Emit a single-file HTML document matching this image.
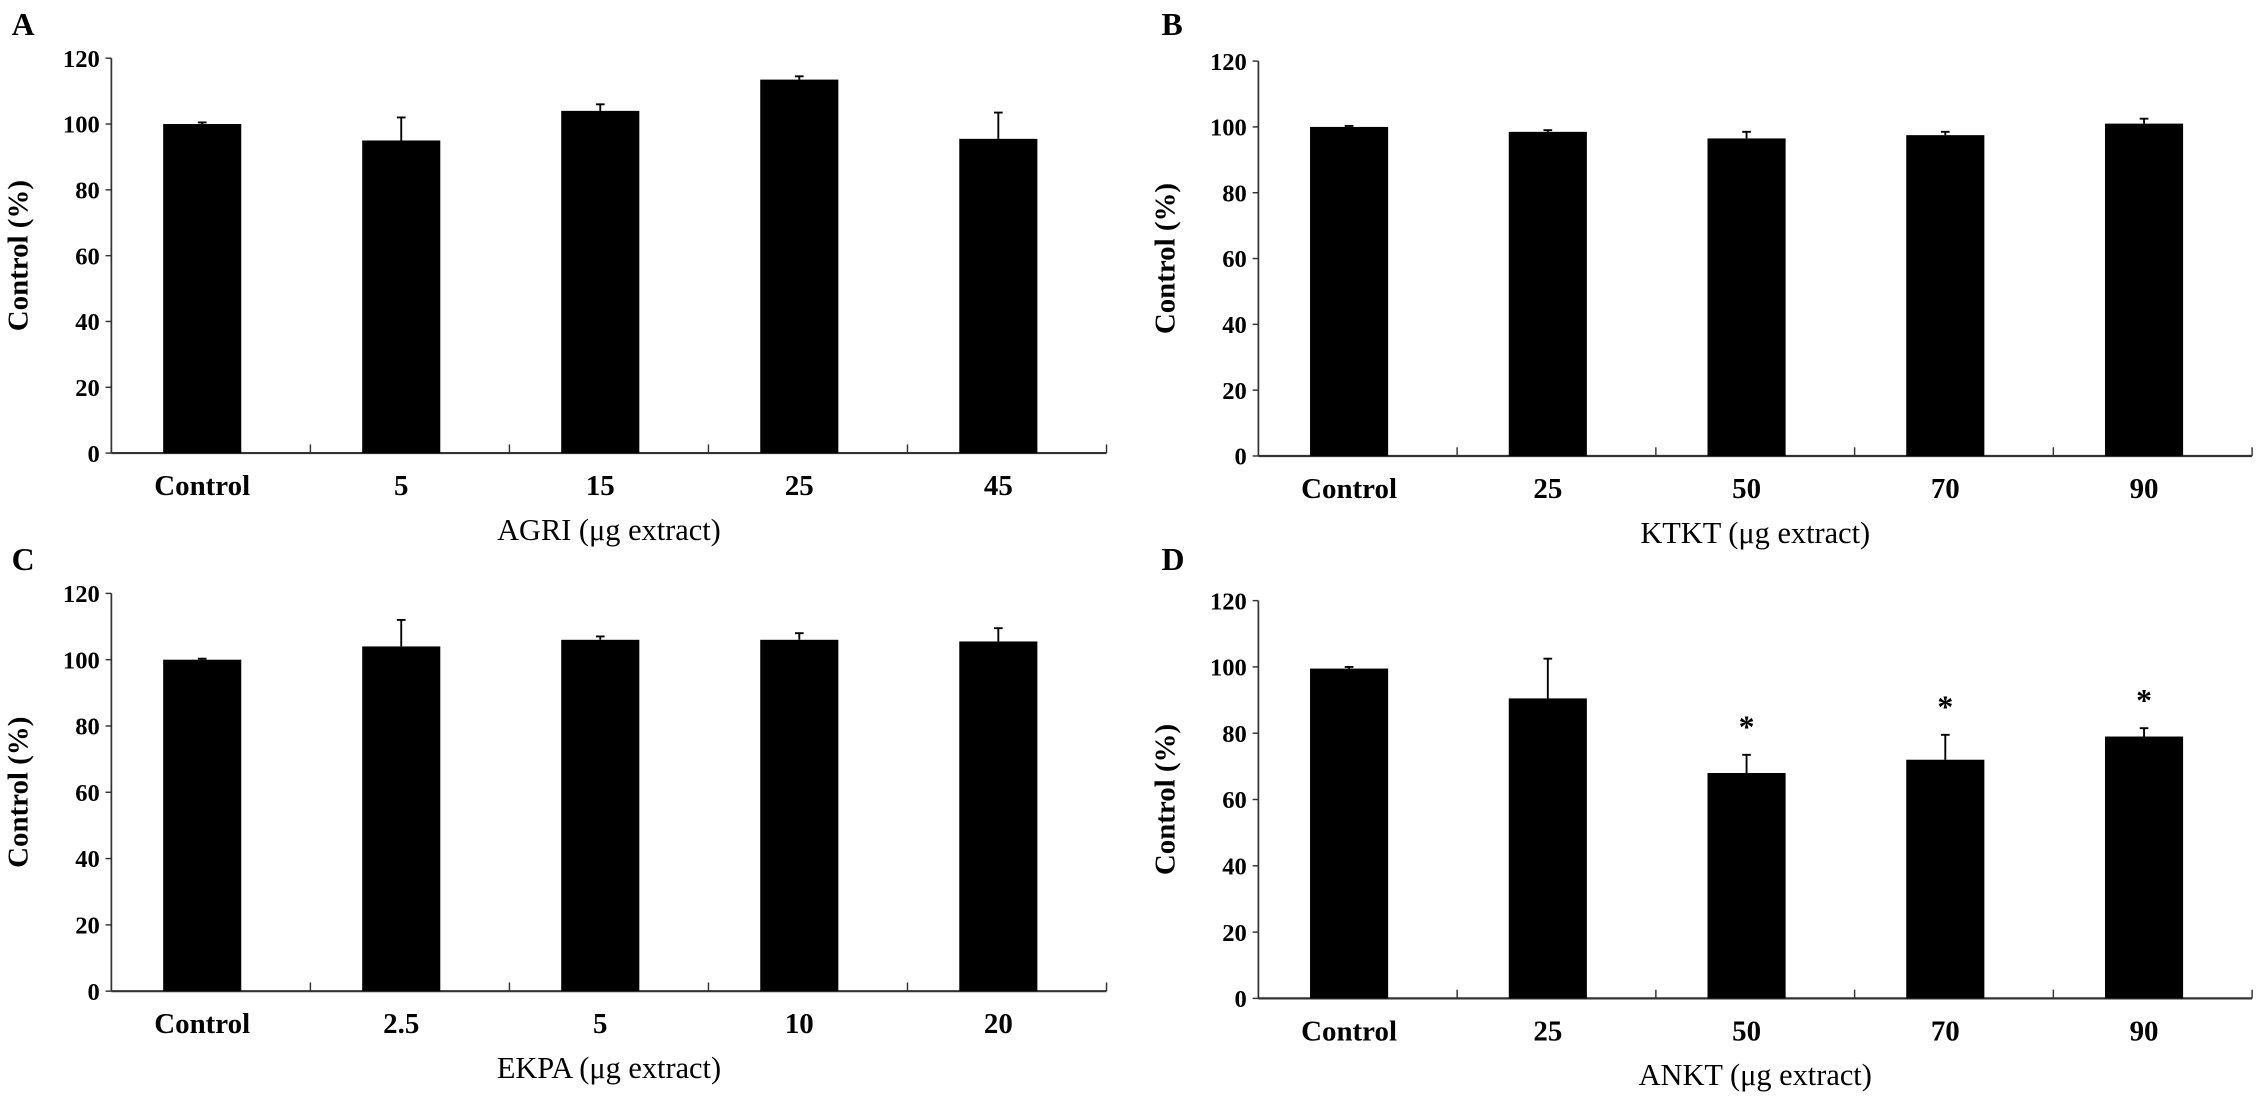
<!DOCTYPE html>
<html><head><meta charset="utf-8"><style>
html,body{margin:0;padding:0;background:#fff;}
svg{display:block;font-family:"Liberation Serif",serif;}
</style></head><body>
<svg id="fig" width="2268" height="1100" viewBox="0 0 1568 760" xmlns="http://www.w3.org/2000/svg"></svg>
<script>
const catsA = ["Control","5","15","25","45"];
const valsA = [100,95,104,113.5,95.5];
const errsA = [0.5,7,2,1,8];
const catsB = ["Control","25","50","70","90"];
const valsB = [100,98.5,96.5,97.5,101];
const errsB = [0.3,0.5,2,1,1.5];
const catsC = ["Control","2.5","5","10","20"];
const valsC = [100,104,106,106,105.5];
const errsC = [0.3,8,1,2,4];
const catsD = ["Control","25","50","70","90"];
const valsD = [99.5,90.5,68,72,79];
const errsD = [0.5,12,5.5,7.5,2.5];
const starsD = [false,false,true,true,true];
const yTicks = [0,20,40,60,80,100,120];

const svg = document.getElementById('fig');
const NS = 'http://www.w3.org/2000/svg';
function mk(tag, attrs, parent){const e=document.createElementNS(NS,tag);for(const k in attrs)e.setAttribute(k,attrs[k]);parent.appendChild(e);return e;}

function panel(letter, key, cats, vals, errs, stars, title, x0, x1, yTop, yBot, letterX, letterY){
  const g = mk('g',{},svg);
  
  
  const yS = v => yBot - (v/120)*(yBot-yTop);
  const step = (x1-x0)/cats.length;
  const xS = i => x0 + step*(i+0.5) - 6;
  const bw = 54;
  const lt = mk('text',{x:letterX,y:letterY,'font-size':22,'font-weight':'bold'},g); lt.textContent = letter;
  
  
  const ya = mk('line',{x1:x0,y1:yTop,x2:x0,y2:yBot,stroke:'#333','stroke-width':1.2},g);
  
  
  yTicks.forEach(t=>{
    mk('line',{x1:x0-4,y1:yS(t),x2:x0,y2:yS(t),stroke:'#333','stroke-width':1},g);
    const tx = mk('text',{x:x0-8,y:yS(t)+6,'font-size':17,'text-anchor':'end','font-weight':'bold'},g);
    tx.textContent = t;
    
    
  });
  const yt = mk('text',{x:0,y:0,'font-size':20,'font-weight':'bold','text-anchor':'middle',transform:`translate(${x0-58},${(yTop+yBot)/2}) rotate(-90)`},g);
  yt.textContent = 'Control (%)';
  
  
  const xa = mk('line',{x1:x0,y1:yBot,x2:x1,y2:yBot,stroke:'#333','stroke-width':1.5},g);
  
  
  for(let i=1;i<=cats.length;i++) mk('line',{x1:x0+step*i,y1:yBot,x2:x0+step*i,y2:yBot-6,stroke:'#333','stroke-width':1},g);
  cats.forEach((c,i)=>{
    const cx = xS(i);
    const b = mk('rect',{x:cx-bw/2,y:yS(vals[i]),width:bw,height:yBot-yS(vals[i]),fill:'#000'},g);
    
    
    const et = yS(vals[i]+errs[i]);
    const e = mk('path',{d:`M${cx} ${yS(vals[i])}V${et}M${cx-3} ${et}H${cx+3}`,stroke:'#000','stroke-width':1.3,fill:'none'},g);
    
    
    const lb = mk('text',{x:cx,y:yBot+29,'font-size':20,'font-weight':'bold','text-anchor':'middle'},g);
    lb.textContent = c;
    
    
    if(stars && stars[i]){
      const s = mk('text',{x:cx,y:et-12,'font-size':22,'font-weight':'bold','text-anchor':'middle'},g);
      s.textContent = '*';
      
      
    }
  });
  const xt = mk('text',{x:(x0+x1)/2,y:yBot+60,'font-size':21,'text-anchor':'middle'},g);
  xt.textContent = title;
  
  
}
panel('A','a',catsA,valsA,errsA,null,'AGRI (μg extract)',77,765,40,313,8,24);
panel('B','b',catsB,valsB,errsB,null,'KTKT (μg extract)',870,1557,42,315,803,24);
panel('C','c',catsC,valsC,errsC,null,'EKPA (μg extract)',77,765,410,685,8,394);
panel('D','d',catsD,valsD,errsD,starsD,'ANKT (μg extract)',870,1557,415,690,803,394);
</script>
</body></html>
